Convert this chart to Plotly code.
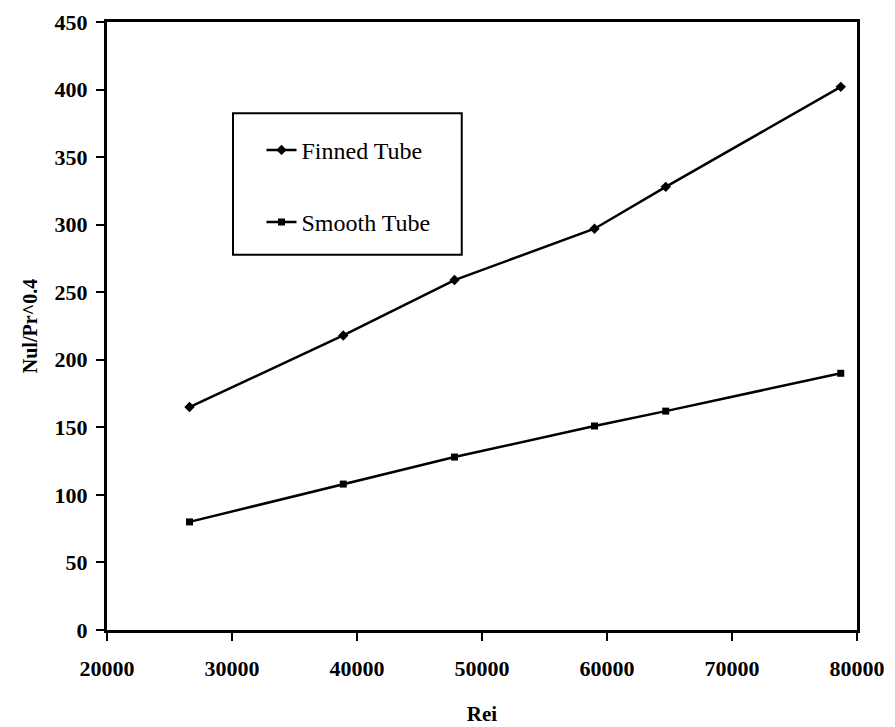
import plotly.graph_objects as go

re_values = [26600, 38900, 47800, 59000, 64700, 78700]
finned_tube = [165, 218, 259, 297, 328, 402]
smooth_tube = [80, 108, 128, 151, 162, 190]
x_ticks = [20000, 30000, 40000, 50000, 60000, 70000, 80000]
y_ticks = [0, 50, 100, 150, 200, 250, 300, 350, 400, 450]

FONT = "Liberation Serif, Times New Roman, DejaVu Serif, serif"

fig = go.Figure()
fig.add_trace(go.Scatter(
    x=re_values, y=finned_tube, name="Finned Tube", mode="lines+markers",
    line=dict(color="black", width=2.5),
    marker=dict(symbol="diamond", size=8, color="black"),
    legendgroup="a",
))
fig.add_trace(go.Scatter(
    x=re_values, y=smooth_tube, name="Smooth Tube", mode="lines+markers",
    line=dict(color="black", width=2.5),
    marker=dict(symbol="square", size=7, color="black"),
    legendgroup="b",
))

axis_common = dict(
    showgrid=False, zeroline=False, showline=True, linecolor="black",
    linewidth=3, mirror=True, ticks="outside", ticklen=8, tickwidth=2,
    tickcolor="black", automargin=False,
    tickfont=dict(family=FONT, size=22, color="black"),
)
fig.update_layout(
    width=895, height=727,
    margin=dict(l=107, r=38, t=22, b=97),
    paper_bgcolor="white", plot_bgcolor="white",
    xaxis=dict(range=[20000, 80000], tickvals=x_ticks,
               ticktext=["<b>%d</b>" % v for v in x_ticks],
               title=dict(text="<b>Rei</b>", font=dict(family=FONT, size=21, color="black"),
                          standoff=26),
               ticklabelstandoff=9,
               **axis_common),
    yaxis=dict(range=[0, 450], tickvals=y_ticks,
               ticktext=["<b>%d</b>" % v for v in y_ticks],
               title=dict(text="<b>Nul/Pr^0.4</b>", font=dict(family=FONT, size=20, color="black"),
                          standoff=12),
               ticklabelstandoff=4,
               **axis_common),
    legend=dict(x=0.206, y=0.826, xanchor="left", yanchor="top",
                bgcolor="rgba(0,0,0,0)", borderwidth=0,
                font=dict(family=FONT, size=24, color="black"),
                traceorder="grouped", tracegroupgap=38),
    showlegend=True,
)
fig.add_shape(type="rect", xref="paper", yref="paper",
              x0=0.168, x1=0.473, y0=0.617, y1=0.850,
              line=dict(color="black", width=2), fillcolor="rgba(0,0,0,0)")

fig.write_html("out.html")
